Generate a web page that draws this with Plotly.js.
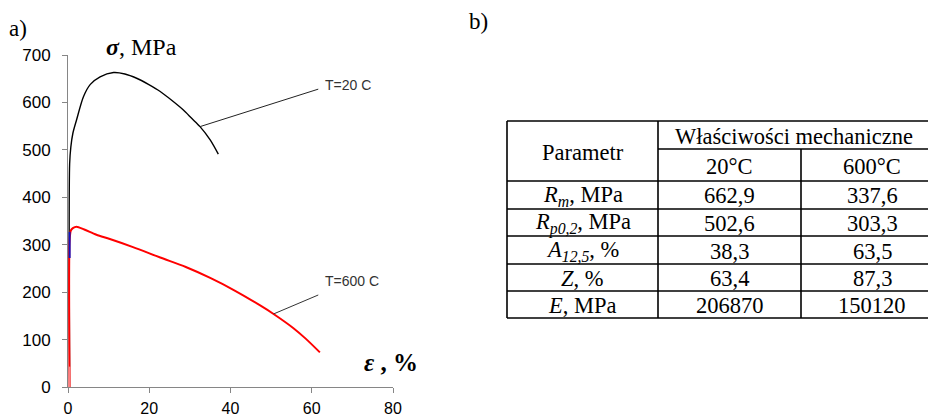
<!DOCTYPE html>
<html>
<head>
<meta charset="utf-8">
<script src="https://cdn.plot.ly/plotly-3.0.1.min.js"></script>
<style>html,body{margin:0;padding:0;background:#fff;}#chart{width:928px;height:419px;}</style>
</head>
<body>
<div id="chart"></div>
<script>
// ---- Data ----
const strain20 = [0.4, 0.4, 0.7, 1.2, 2.1, 3.8, 5.5, 7.9, 11.2, 14.0, 16.9, 19.8, 22.7, 25.6, 28.4, 30.5, 32.5, 35.0, 37.0];
const stress20 = [0, 470, 506, 535, 563, 612, 638, 654, 663, 660, 651, 638, 623, 604, 584, 566, 549, 521, 491];

const strain600 = [0.4, 0.4, 0.7, 1.2, 2.1, 4.0, 7.0, 10.3, 16.0, 22.7, 29.0, 35.0, 40.7, 47.3, 50.6, 55.5, 58.5, 62.0];
const stress600 = [0, 310, 330, 335, 338, 332, 321, 312, 295, 273, 253, 230, 205, 172, 154, 124, 102, 73];

const blueStrain = [0.4, 0.4];
const blueStress = [272, 327];
const pinkStrain = [0.4, 0.4];
const pinkStress = [0, 43];

const label20 = 'T=20 C';
const label600 = 'T=600 C';
const leader20X = [32.5, 61.6];
const leader20Y = [549, 628];
const leader600X = [50.6, 61.6];
const leader600Y = [154, 194];
const label20Pos = [62.8, 637];
const label600Pos = [62.8, 224];

const xTicks = [0, 20, 40, 60, 80];
const yTicks = [0, 100, 200, 300, 400, 500, 600, 700];

const tableHeadParam = 'Parametr';
const tableHeadGroup = 'Właściwości mechaniczne';
const tableTemps = ['20°C', '600°C'];
const tableParams = ['<i>R<sub>m</sub></i>, MPa', '<i>R<sub>p0,2</sub></i>, MPa', '<i>A<sub>12,5</sub></i>, %', '<i>Z</i>, %', '<i>E</i>, MPa'];
const values20 = ['662,9', '502,6', '38,3', '63,4', '206870'];
const values600 = ['337,6', '303,3', '63,5', '87,3', '150120'];

// ---- Layout helpers (pixel -> paper) ----
const W = 928, H = 419;
const px = v => v / W;
const py = v => 1 - v / H;

const serif = 'Liberation Serif, Times New Roman, serif';
const sans = 'Liberation Sans, Arial, sans-serif';

const traces = [
  {x: strain20, y: stress20, mode: 'lines', line: {color: '#000', width: 1.4, shape: 'spline', smoothing: 0.8}, hoverinfo: 'skip'},
  {x: strain600, y: stress600, mode: 'lines', line: {color: '#ff0000', width: 2, shape: 'spline', smoothing: 0.8}, hoverinfo: 'skip'},
  {x: blueStrain, y: blueStress, mode: 'lines', line: {color: '#1010c0', width: 2}, hoverinfo: 'skip'},
  {x: pinkStrain, y: pinkStress, mode: 'lines', line: {color: '#ff8080', width: 2}, hoverinfo: 'skip'},
  {x: leader20X, y: leader20Y, mode: 'lines', line: {color: '#222', width: 1}, hoverinfo: 'skip'},
  {x: leader600X, y: leader600Y, mode: 'lines', line: {color: '#333', width: 1}, hoverinfo: 'skip'}
];

// ---- Table geometry ----
const tL = 507, tC1 = 658, tC2 = 801, tR = 943;
const rowLines = [121, 149, 181, 209, 236, 264, 291, 318];
const shapes = [];
const lineStyle = {color: '#000', width: 1.6};
function hline(x0, x1, y) { shapes.push({type: 'line', xref: 'paper', yref: 'paper', x0: px(x0), x1: px(x1), y0: py(y), y1: py(y), line: lineStyle}); }
function vline(x, y0, y1) { shapes.push({type: 'line', xref: 'paper', yref: 'paper', x0: px(x), x1: px(x), y0: py(y0), y1: py(y1), line: lineStyle}); }
hline(tL, tR, rowLines[0]);
hline(tC1, tR, rowLines[1]);
for (let i = 2; i < rowLines.length; i++) hline(tL, tR, rowLines[i]);
vline(tL, rowLines[0], rowLines[rowLines.length - 1]);
vline(tC1, rowLines[0], rowLines[rowLines.length - 1]);
vline(tC2, rowLines[1], rowLines[rowLines.length - 1]);
vline(tR, rowLines[0], rowLines[rowLines.length - 1]);

const annotations = [];
function txt(text, x, y, size, opts) {
  annotations.push(Object.assign({xref: 'paper', yref: 'paper', x: px(x), y: py(y), text: text, showarrow: false,
    xanchor: 'center', yanchor: 'middle', font: {family: serif, size: size, color: '#000'}}, opts || {}));
}
const tFont = 22.5;
txt(tableHeadParam, (tL + tC1) / 2, (rowLines[0] + rowLines[2]) / 2 + 2, tFont);
txt(tableHeadGroup, 794, (rowLines[0] + rowLines[1]) / 2 + 1, tFont);
txt(tableTemps[0], (tC1 + tC2) / 2, (rowLines[1] + rowLines[2]) / 2 + 1, tFont);
txt(tableTemps[1], 872, (rowLines[1] + rowLines[2]) / 2 + 1, tFont);
for (let i = 0; i < tableParams.length; i++) {
  const yc = (rowLines[i + 2] + rowLines[i + 3]) / 2 + 1;
  txt(tableParams[i], (tL + tC1) / 2, yc, tFont);
  txt(values20[i], (tC1 + tC2) / 2, yc, tFont);
  txt(values600[i], 872, yc, tFont);
}

// panel letters & axis titles
txt('a)', 18, 28, 23);
txt('b)', 478, 22, 23);
txt('<b><i>σ</i></b>, MPa', 141, 47, 24);
txt('<b><i>ε</i> , %</b>', 391, 362, 25);

// curve labels (placed in data coordinates)
annotations.push({xref: 'x', yref: 'y', x: label20Pos[0], y: label20Pos[1], text: label20, showarrow: false,
  xanchor: 'left', yanchor: 'middle', font: {family: sans, size: 14, color: '#333'}});
annotations.push({xref: 'x', yref: 'y', x: label600Pos[0], y: label600Pos[1], text: label600, showarrow: false,
  xanchor: 'left', yanchor: 'middle', font: {family: sans, size: 14, color: '#333'}});

const layout = {
  width: W, height: H,
  margin: {l: 0, r: 0, t: 0, b: 0},
  paper_bgcolor: '#fff', plot_bgcolor: 'rgba(0,0,0,0)',
  showlegend: false,
  xaxis: {
    domain: [68 / W, 393 / W], range: [0, 80], tickvals: xTicks, ticktext: xTicks.map(String),
    showgrid: false, zeroline: false, showline: true, linecolor: '#868686', linewidth: 1,
    ticks: 'outside', ticklen: 5, tickcolor: '#868686', ticklabelstandoff: 2,
    tickfont: {family: sans, size: 16, color: '#000'}, fixedrange: true
  },
  yaxis: {
    domain: [(H - 387) / H, (H - 55) / H], range: [0, 700], tickvals: yTicks, ticktext: yTicks.map(String),
    showgrid: false, zeroline: false, showline: true, linecolor: '#868686', linewidth: 1,
    ticks: 'outside', ticklen: 5, tickcolor: '#868686', ticklabelstandoff: 8,
    tickfont: {family: sans, size: 17, color: '#000'}, fixedrange: true
  },
  shapes: shapes,
  annotations: annotations
};

Plotly.newPlot('chart', traces, layout, {displayModeBar: false, staticPlot: true});
</script>
</body>
</html>
